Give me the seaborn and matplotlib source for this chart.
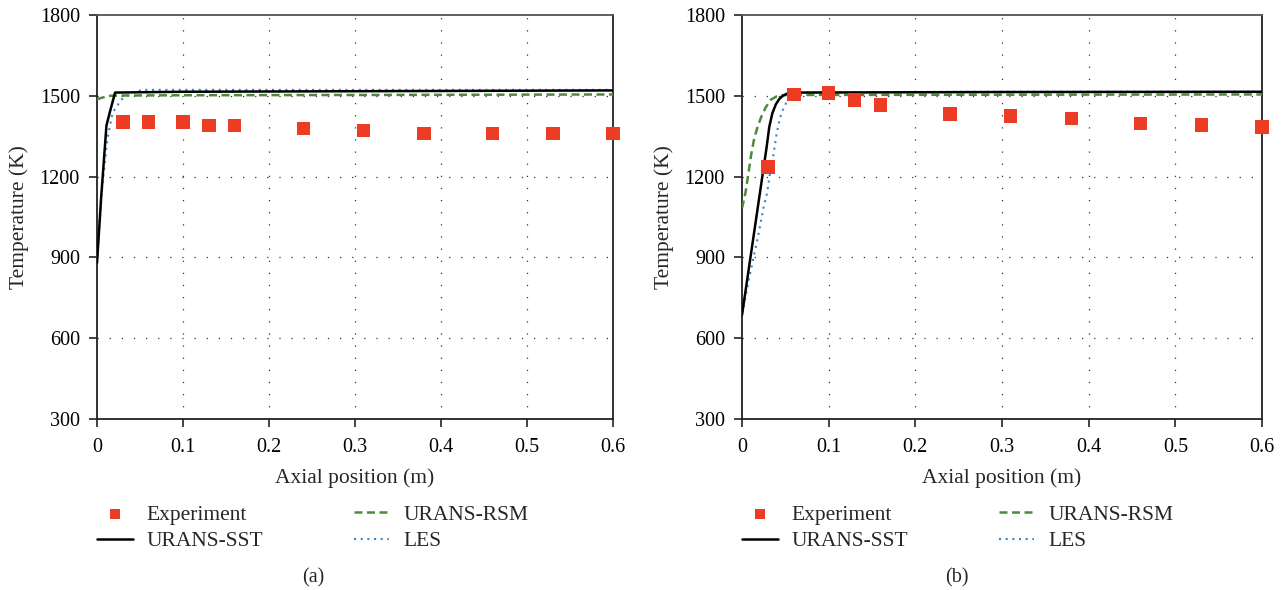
import numpy as np
import pandas as pd
import matplotlib
matplotlib.use("Agg")
import matplotlib.pyplot as plt
import seaborn as sns

# ---------------- data ----------------
exp_x = [0.03, 0.06, 0.10, 0.13, 0.16, 0.24, 0.31, 0.38, 0.46, 0.53, 0.60]
exp_a = [1402, 1402, 1402, 1390, 1390, 1378, 1372, 1360, 1360, 1360, 1360]
exp_b = [1235, 1505, 1510, 1485, 1465, 1432, 1425, 1415, 1398, 1392, 1385]

sst_a_x = [0, 0.005, 0.011, 0.015, 0.021, 0.1, 0.3, 0.6]
sst_a_y = [880, 1130, 1390, 1440, 1512, 1515, 1517, 1520]
rsm_a_x = [0, 0.007, 0.014, 0.03, 0.1, 0.3, 0.6]
rsm_a_y = [1487, 1494, 1500, 1501, 1502, 1503, 1505]
les_a_x = [0, 0.005, 0.012, 0.018, 0.028, 0.04, 0.053, 0.3, 0.6]
les_a_y = [880, 1130, 1336, 1436, 1485, 1512, 1522, 1522, 1522]

sst_b_x = [0, 0.028, 0.0315, 0.035, 0.039, 0.043, 0.047, 0.052, 0.06, 0.3, 0.6]
sst_b_y = [686, 1300, 1385, 1435, 1468, 1488, 1500, 1508, 1512, 1514, 1515]
rsm_b_x = [0, 0.004, 0.008, 0.0105, 0.014, 0.018, 0.022, 0.027, 0.033, 0.04, 0.05, 0.3, 0.6]
rsm_b_y = [1082, 1140, 1225, 1280, 1340, 1385, 1420, 1455, 1485, 1498, 1503, 1504, 1505]
les_b_x = [0, 0.002, 0.0077, 0.0135, 0.0193, 0.025, 0.0289, 0.032, 0.036, 0.04, 0.044,
           0.048, 0.052, 0.056, 0.06, 0.07, 0.3, 0.6]
les_b_y = [693, 717, 816, 902, 991, 1088, 1138, 1206, 1275, 1360, 1420,
           1455, 1480, 1497, 1507, 1513, 1515, 1515]

xticks = [0, 0.1, 0.2, 0.3, 0.4, 0.5, 0.6]
xticklabels = ["0", "0.1", "0.2", "0.3", "0.4", "0.5", "0.6"]
yticks = [300, 600, 900, 1200, 1500, 1800]
captions = ["(a)", "(b)"]

# ---------------- style ----------------
sns.set_theme(style="white")
plt.rcParams["font.family"] = ["Liberation Serif", "DejaVu Serif"]

RED = "#EE3B24"
GREEN = "#4F8A3C"
BLUE = "#3A86C8"

fig = plt.figure(figsize=(12.83, 5.90), dpi=100)
ax_a = fig.add_axes([97 / 1283, 1 - 419 / 590, 516 / 1283, 404 / 590])
ax_b = fig.add_axes([742 / 1283, 1 - 419 / 590, 520 / 1283, 404 / 590])

panels = [
    (ax_a, exp_a, (sst_a_x, sst_a_y), (rsm_a_x, rsm_a_y), (les_a_x, les_a_y), 0.4186),
    (ax_b, exp_b, (sst_b_x, sst_b_y), (rsm_b_x, rsm_b_y), (les_b_x, les_b_y), 0.413),
]

for i, (ax, expv, sst, rsm, les, capx) in enumerate(panels):
    df_exp = pd.DataFrame({"x": exp_x, "T": expv})
    df_sst = pd.DataFrame({"x": sst[0], "T": sst[1]})
    df_rsm = pd.DataFrame({"x": rsm[0], "T": rsm[1]})
    df_les = pd.DataFrame({"x": les[0], "T": les[1]})

    # dotted grid
    for gx in xticks[1:-1]:
        ax.axvline(gx, color="#333333", lw=0.9, ls=(0, (1, 8.7)), zorder=0)
    for gy in yticks[1:-1]:
        ax.axhline(gy, color="#333333", lw=0.9, ls=(0, (1, 8.7)), zorder=0)

    sns.scatterplot(data=df_exp, x="x", y="T", ax=ax, marker="s", s=95,
                    color=RED, edgecolor="none", label="Experiment", zorder=5,
                    clip_on=False)
    sns.lineplot(data=df_sst, x="x", y="T", ax=ax, color="black", lw=1.8,
                 label="URANS-SST", zorder=4, sort=False)
    sns.lineplot(data=df_rsm, x="x", y="T", ax=ax, color=GREEN, lw=1.8,
                 ls=(0, (3.2, 1.8)), label="URANS-RSM", zorder=3, sort=False)
    sns.lineplot(data=df_les, x="x", y="T", ax=ax, color=BLUE, lw=1.5,
                 ls=(0, (1, 2.2)), label="LES", zorder=3, sort=False)

    ax.set_xlim(0, 0.6)
    ax.set_ylim(300, 1800)
    ax.set_xticks(xticks)
    ax.set_xticklabels(xticklabels)
    ax.set_yticks(yticks)
    ax.tick_params(axis="both", direction="out", length=5.8, width=1.2,
                   colors="#222222", labelsize=14.5, labelcolor="black",
                   bottom=True, left=True)
    ax.tick_params(axis="x", pad=8)
    ax.tick_params(axis="y", pad=6.5)
    for name, sp in ax.spines.items():
        sp.set_visible(True)
        sp.set_color("#222222" if name in ("left", "bottom", "right") else "#555555")
        sp.set_linewidth(1.3)
    ax.set_xlabel("Axial position (m)", fontsize=15.5, labelpad=8)
    ax.set_ylabel("Temperature (K)", fontsize=15.5, labelpad=8)

    handles, labels = ax.get_legend_handles_labels()
    order = ["Experiment", "URANS-SST", "URANS-RSM", "LES"]
    hmap = dict(zip(labels, handles))
    ax.legend([hmap[k] for k in order], order, ncol=2, frameon=False,
              loc="upper left", bbox_to_anchor=(0.0, -0.2125),
              borderpad=0, borderaxespad=0,
              fontsize=15.5, handlelength=1.65, columnspacing=4.2,
              labelspacing=0.29, handletextpad=0.65, markerscale=0.74)
    ax.text(capx, -0.393, captions[i], transform=ax.transAxes,
            ha="center", va="center", fontsize=14.5)

fig.savefig("out.png", dpi=100)
